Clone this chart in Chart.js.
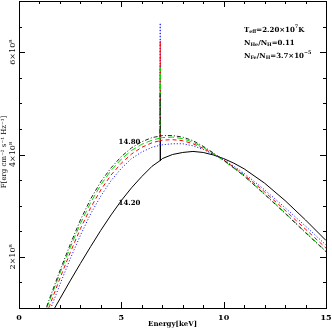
<!DOCTYPE html>
<html><head><meta charset="utf-8">
<script src="https://cdn.jsdelivr.net/npm/chart.js@4/dist/chart.umd.min.js"></script>
<style>html,body{margin:0;padding:0;background:#fff}#wrap{width:332px;height:330px}</style>
</head><body><div id="wrap"><canvas id="c" width="332" height="330"></canvas></div>
<script>
// Energy grid [keV]; 6.90 keV carries the Fe line spike
const energy = [1.2,1.5,2,2.5,3,3.5,4,4.5,5,5.5,6,6.5,6.89,6.9,6.91,7,7.5,8,8.5,9,9.5,10,10.5,11,12,13,14,15];
// Flux values in units of 1e8 erg cm^-2 s^-1 Hz^-1
const fluxDashDot = [0.86,1.19,1.73,2.24,2.72,3.13,3.47,3.74,3.96,4.13,4.25,4.33,4.36,5.19,4.36,4.37,4.37,4.34,4.27,4.16,4.03,3.89,3.74,3.58,3.22,2.85,2.47,2.10];
const fluxGreen   = [0.84,1.15,1.68,2.18,2.65,3.06,3.41,3.69,3.91,4.08,4.20,4.28,4.32,5.69,4.32,4.33,4.34,4.31,4.24,4.14,4.02,3.88,3.73,3.58,3.23,2.86,2.48,2.11];
const fluxRed     = [0.75,1.05,1.58,2.08,2.55,2.96,3.31,3.60,3.83,4.01,4.14,4.23,4.27,6.22,4.27,4.28,4.29,4.27,4.21,4.12,4.01,3.89,3.75,3.60,3.27,2.91,2.54,2.17];
const fluxBlue    = [0.66,0.94,1.46,1.96,2.42,2.84,3.19,3.49,3.73,3.92,4.05,4.14,4.18,6.57,4.18,4.19,4.21,4.21,4.17,4.10,4.00,3.90,3.77,3.63,3.31,2.96,2.60,2.23];
const fluxBlack   = [0.69,0.83,1.18,1.53,1.87,2.20,2.52,2.82,3.10,3.35,3.57,3.77,3.88,4.50,3.88,3.92,4.00,4.04,4.06,4.04,3.99,3.92,3.83,3.72,3.44,3.10,2.72,2.32];
const curveLabels = ['14.80','14.20'];
const xTickLabels = ['0','5','10','15'];
const xTickValues = [0,5,10,15];
const yTickLabels = ['2×10⁸','4×10⁸','6×10⁸'];
const yTickValues = [2,4,6];

function pts(arr){ return energy.map((e,i)=>({x:e,y:arr[i]})); }

const SERIF = '"DejaVu Serif", "Liberation Serif", serif';

function richText(ctx, x, y, parts, size){
  let cx = x;
  for (const p of parts){
    const s = p.sub||p.sup ? size*0.7 : size;
    ctx.font = 'bold '+s+'px '+SERIF;
    const dy = p.sub ? size*0.3 : (p.sup ? -size*0.4 : 0);
    ctx.fillText(p.t, cx, y+dy);
    cx += ctx.measureText(p.t).width;
  }
}

const decor = {
  id:'decor',
  afterDraw(chart){
    const ctx = chart.ctx, a = chart.chartArea;
    const xs = chart.scales.x, ys = chart.scales.y;
    ctx.save();
    ctx.strokeStyle = '#000'; ctx.lineWidth = 1;
    ctx.strokeRect(Math.round(a.left)+0.5, Math.round(a.top)+0.5, Math.round(a.right-a.left), Math.round(a.bottom-a.top));
    ctx.beginPath();
    for (let v=0; v<=15; v++){
      const px = Math.round(xs.getPixelForValue(v))+0.5;
      const L = (v%5===0)?6:3;
      ctx.moveTo(px,a.bottom); ctx.lineTo(px,a.bottom-L);
      ctx.moveTo(px,a.top); ctx.lineTo(px,a.top+L);
    }
    for (let v=1; v<=7; v+=0.5){
      const py = Math.round(ys.getPixelForValue(v))+0.5;
      const L = (v===2||v===4||v===6)?6:3;
      ctx.moveTo(a.left,py); ctx.lineTo(a.left+L,py);
      ctx.moveTo(a.right,py); ctx.lineTo(a.right-L,py);
    }
    ctx.stroke();
    ctx.fillStyle = '#000';
    ctx.font = 'bold 8px '+SERIF;
    ctx.textAlign='center'; ctx.textBaseline='middle';
    xTickValues.forEach((v,i)=>{ ctx.fillText(xTickLabels[i], xs.getPixelForValue(v), a.bottom+10); });
    ctx.font = 'bold 7px '+SERIF;
    ctx.fillText('Energy[keV]', (a.left+a.right)/2, a.bottom+16);
    yTickValues.forEach((v,i)=>{
      ctx.save();
      ctx.translate(13, ys.getPixelForValue(v));
      ctx.rotate(-Math.PI/2);
      ctx.font = '8px '+SERIF; ctx.textBaseline='middle';
      ctx.fillText(yTickLabels[i],0,0);
      ctx.restore();
    });
    ctx.save();
    ctx.translate(4, 152);
    ctx.rotate(-Math.PI/2);
    ctx.font = '7px '+SERIF; ctx.textBaseline='middle';
    ctx.fillText('F[erg cm⁻² s⁻¹ Hz⁻¹]',0,0);
    ctx.restore();
    ctx.textAlign='center'; ctx.textBaseline='middle';
    ctx.font = 'bold 7px '+SERIF;
    ctx.fillText(curveLabels[0], xs.getPixelForValue(5.4), ys.getPixelForValue(4.24));
    ctx.fillText(curveLabels[1], xs.getPixelForValue(5.4), ys.getPixelForValue(3.04));
    ctx.textAlign='left';
    const tx = 244;
    richText(ctx, tx, 30, [{t:'T'},{t:'eff',sub:true},{t:'=2.20×10'},{t:'7',sup:true},{t:'K'}], 7);
    richText(ctx, tx, 43, [{t:'N'},{t:'He',sub:true},{t:'/N'},{t:'H',sub:true},{t:'=0.11'}], 7);
    richText(ctx, tx, 56, [{t:'N'},{t:'Fe',sub:true},{t:'/N'},{t:'H',sub:true},{t:'=3.7×10'},{t:'−5',sup:true}], 7);
    ctx.restore();
  }
};

const common = {fill:false, pointRadius:0, borderWidth:1, tension:0};
new Chart(document.getElementById('c'), {
  type:'line',
  data:{datasets:[
    Object.assign({data:pts(fluxDashDot), borderColor:'#222', borderDash:[4,2,1,2]}, common),
    Object.assign({data:pts(fluxGreen), borderColor:'#00dd00', borderDash:[6,3]}, common),
    Object.assign({data:pts(fluxRed), borderColor:'#ff0000', borderDash:[4,3]}, common),
    Object.assign({data:pts(fluxBlue), borderColor:'#0000ff', borderDash:[1,2]}, common),
    Object.assign({data:pts(fluxBlack), borderColor:'#000'}, common)
  ]},
  options:{
    responsive:false, animation:false, devicePixelRatio:1,
    layout:{padding:{left:19, right:6, top:1, bottom:22}},
    plugins:{legend:{display:false}, tooltip:{enabled:false}},
    scales:{
      x:{type:'linear', min:0, max:15, ticks:{display:false}, grid:{display:false, drawTicks:false}, border:{display:false}, afterFit(s){s.height=0;}},
      y:{type:'linear', min:1, max:7, ticks:{display:false}, grid:{display:false, drawTicks:false}, border:{display:false}, afterFit(s){s.width=0;}}
    }
  },
  plugins:[decor]
});
</script></body></html>
